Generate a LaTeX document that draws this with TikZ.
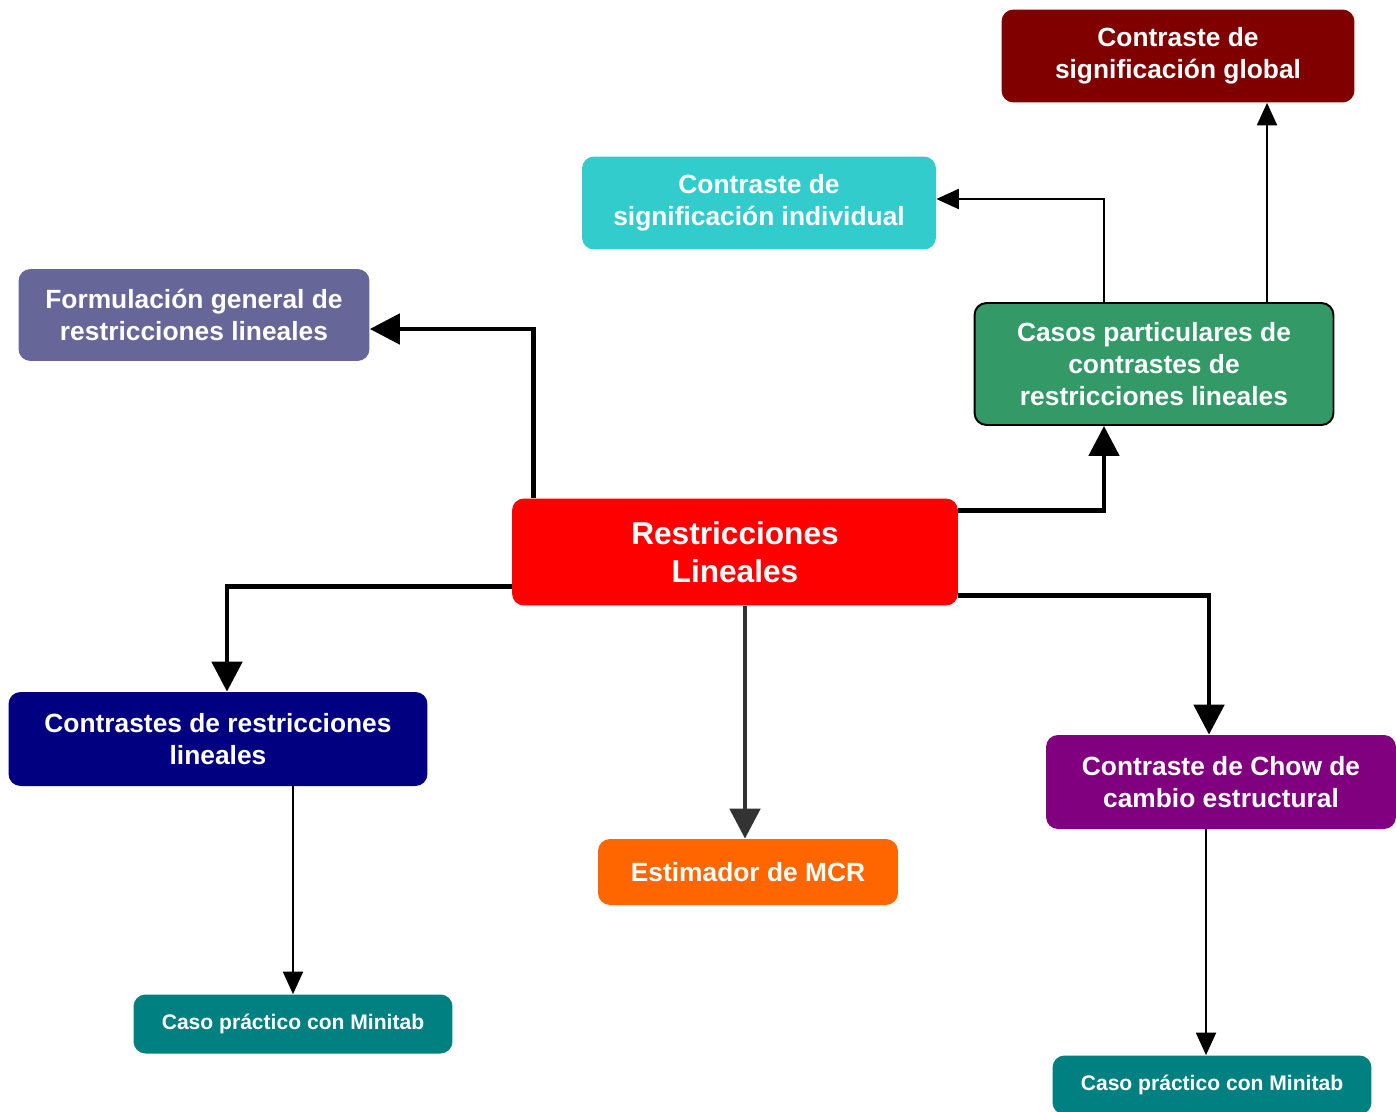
\documentclass[tikz,border=0pt]{standalone}
\usepackage{fontspec}
\setmainfont{Liberation Sans}
\usetikzlibrary{arrows.meta,calc}
\definecolor{cgl}{HTML}{800000}
\definecolor{cin}{HTML}{33CCCC}
\definecolor{cfg}{HTML}{666699}
\definecolor{ccp}{HTML}{339966}
\definecolor{crl}{HTML}{FF0000}
\definecolor{ccr}{HTML}{000080}
\definecolor{cmc}{HTML}{FF6600}
\definecolor{cch}{HTML}{800080}
\definecolor{cmt}{HTML}{008080}
\begin{document}
\begin{tikzpicture}[x=0.02cm, y=-0.02cm]
\tikzstyle{every node}=[rounded corners=0.24cm, text=white, font=\bfseries\fontsize{15}{18}\selectfont, align=center, inner sep=0pt]
\tikzstyle{big}=[line width=2.8pt, -{Triangle[length=0.6cm,width=0.6cm]}]
\tikzstyle{small}=[line width=1.1pt, -{Triangle[length=0.45cm,width=0.4cm]}]
\useasboundingbox (0,0) rectangle (1396,1112);
\node[fill=cgl, minimum width=7.06cm, minimum height=1.86cm](gl) at (1178,56) {Contraste de\\significación global};
\node[fill=cin, minimum width=7.08cm, minimum height=1.86cm](in) at (759,203) {Contraste de\\significación individual};
\node[fill=cfg, minimum width=7.02cm, minimum height=1.84cm](fg) at (194,315) {Formulación general de\\restricciones lineales};
\node[fill=ccp, draw=black, line width=1.1pt, minimum width=7.18cm, minimum height=2.44cm](cp) at (1154,364) {Casos particulares de\\contrastes de\\restricciones lineales};
\node[fill=crl, minimum width=8.92cm, minimum height=2.14cm, font=\bfseries\fontsize{18}{21.5}\selectfont](rl) at (735,552) {Restricciones\\Lineales};
\node[fill=ccr, minimum width=8.38cm, minimum height=1.88cm](cr) at (218,739) {Contrastes de restricciones\\lineales};
\node[fill=cmc, minimum width=6.0cm, minimum height=1.32cm](mc) at (748,872) {Estimador de MCR};
\node[fill=cch, minimum width=7.0cm, minimum height=1.88cm](ch) at (1221,782) {Contraste de Chow de\\cambio estructural};
\node[fill=cmt, minimum width=6.38cm, minimum height=1.18cm, font=\bfseries\fontsize{12}{14}\selectfont](mt1) at (293,1024) {Caso práctico con Minitab};
\node[fill=cmt, minimum width=6.38cm, minimum height=1.18cm, font=\bfseries\fontsize{12}{14}\selectfont](mt2) at (1212,1085) {Caso práctico con Minitab};
% conexiones desde Restricciones Lineales
\draw[big] ($(rl.north west)+(22,0)$) |- ($(fg.east)+(0,14)$);
\draw[big] ($(rl.north east)+(0,12)$) -| ($(cp.south)+(-50,0)$);
\draw[big] ($(rl.south west)+(0,-19)$) -| ($(cr.north)+(9,0)$);
\draw[big, color=black!80] ($(mc.north |- rl.south)+(-3,0)$) -- ($(mc.north)+(-3,0)$);
\draw[big] ($(rl.south east)+(0,-10)$) -| ($(ch.north)+(-12,0)$);
% casos particulares
\draw[small] ($(cp.north)+(-50,0)$) |- ($(in.east)+(0,-4)$);
\coordinate (c1) at ($(cp.north)+(113,0)$);
\draw[small] (c1) -- (c1 |- gl.south);
% casos practicos
\draw[small] (mt1.north |- cr.south) -- (mt1.north);
\coordinate (c2) at ($(ch.south)+(-15,0)$);
\draw[small] (c2) -- (c2 |- mt2.north);
\end{tikzpicture}
\end{document}
